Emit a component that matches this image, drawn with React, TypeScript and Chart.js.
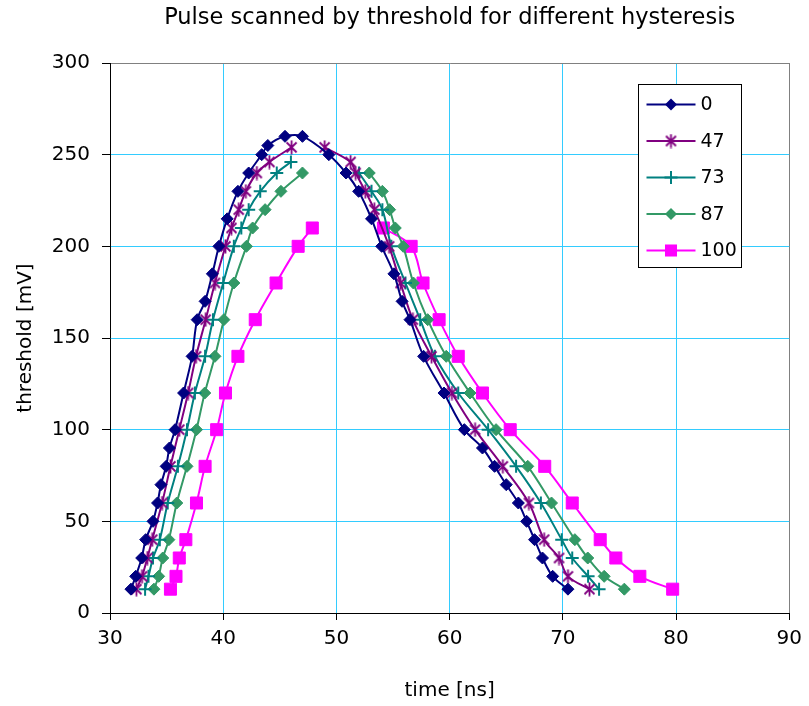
import React, { useEffect, useRef } from 'react';
import { Chart, registerables } from 'chart.js';

Chart.register(...registerables);

const FONT = "'DejaVu Sans', 'Liberation Sans', sans-serif";

const chartTitle = 'Pulse scanned by threshold for different hysteresis';
const xTitle = 'time [ns]';
const yTitle = 'threshold [mV]';
const seriesNames = ['0', '47', '73', '87', '100'];
const seriesColors = ['#000080', '#800080', '#008080', '#339966', '#ff00ff'];

// hysteresis 0
const time0 = [31.85, 32.27, 32.8, 33.15, 33.8, 34.2, 34.5, 34.96, 35.25, 35.75, 36.5, 37.25, 37.7, 38.4, 39.04, 39.62, 40.35, 41.3, 42.25, 43.4, 43.94, 45.46, 47.0, 49.33, 50.85, 51.96, 53.1, 54.0, 55.08, 55.8, 56.5, 57.7, 59.5, 61.3, 62.9, 63.97, 65.0, 66.07, 66.8, 67.5, 68.2, 69.1, 70.45];
const thr0 = [13, 20, 30, 40, 50, 60, 70, 80, 90, 100, 120, 140, 160, 170, 185, 200, 215, 230, 240, 250, 255, 260, 260, 250, 240, 230, 215, 200, 185, 170, 160, 140, 120, 100, 90, 80, 70, 60, 50, 40, 30, 20, 13];

// hysteresis 47 (null = gap between rising and falling edge)
const time47 = [32.33, 32.83, 33.3, 33.73, 34.6, 35.34, 36.12, 36.9, 37.6, 38.45, 39.27, 40.2, 40.73, 41.37, 42.0, 42.97, 44.08, 46.04, 47.5, 48.96, 51.25, 51.7, 52.55, 53.35, 54.65, 55.66, 56.75, 58.4, 60.2, 62.25, 64.7, 67.0, 68.35, 69.66, 70.45, 72.35];
const thr47 = [13, 20, 30, 40, 60, 80, 100, 120, 140, 160, 180, 200, 210, 220, 230, 240, 246, 254, null, 254, 246, 240, 230, 220, 200, 180, 160, 140, 120, 100, 80, 60, 40, 30, 20, 13];

// hysteresis 73
const time73 = [33.1, 33.4, 33.8, 34.4, 35.1, 36.0, 36.8, 37.5, 38.4, 39.1, 40.0, 40.94, 41.6, 42.25, 43.27, 44.73, 45.98, 49.0, 52.0, 53.1, 54.06, 54.85, 56.1, 57.4, 58.7, 60.76, 63.4, 65.87, 68.06, 69.9, 70.83, 72.23, 73.2];
const thr73 = [13, 20, 30, 40, 60, 80, 100, 120, 140, 160, 180, 200, 210, 220, 230, 240, 246, null, 240, 230, 220, 200, 180, 160, 140, 120, 100, 80, 60, 40, 30, 20, 13];

// hysteresis 87
const time87 = [33.88, 34.3, 34.66, 35.2, 35.9, 36.8, 37.64, 38.37, 39.27, 40.06, 40.94, 42.05, 42.6, 43.7, 45.1, 47.0, 50.0, 52.9, 54.06, 54.7, 55.2, 55.9, 56.8, 58.06, 59.7, 61.8, 64.1, 66.9, 69.0, 71.06, 72.2, 73.65, 75.43];
const thr87 = [13, 20, 30, 40, 60, 80, 100, 120, 140, 160, 180, 200, 210, 220, 230, 240, null, 240, 230, 220, 210, 200, 180, 160, 140, 120, 100, 80, 60, 40, 30, 20, 13];

// hysteresis 100
const time100 = [35.34, 35.83, 36.12, 36.7, 37.64, 38.4, 39.42, 40.2, 41.3, 42.83, 44.67, 46.62, 47.87, 51.0, 54.15, 56.6, 57.65, 59.07, 60.76, 62.9, 65.35, 68.4, 70.83, 73.3, 74.68, 76.8, 79.7];
const thr100 = [13, 20, 30, 40, 60, 80, 100, 120, 140, 160, 180, 200, 210, null, 210, 200, 180, 160, 140, 120, 100, 80, 60, 40, 30, 20, 13];

const seriesTimes = [time0, time47, time73, time87, time100];
const seriesThr = [thr0, thr47, thr73, thr87, thr100];

const xMin = 30, xMax = 90, xStep = 10;
const yMin = 0, yMax = 300, yStep = 50;

function makeStar(color: string): HTMLCanvasElement {
  const c = document.createElement('canvas');
  c.width = 15; c.height = 15;
  const g = c.getContext('2d')!;
  g.strokeStyle = color;
  g.lineWidth = 1.8;
  g.lineCap = 'butt';
  g.beginPath();
  g.moveTo(2.5, 2.5); g.lineTo(12.5, 12.5);
  g.moveTo(12.5, 2.5); g.lineTo(2.5, 12.5);
  g.moveTo(7.5, 0.5); g.lineTo(7.5, 14.5);
  g.stroke();
  return c;
}

function drawMarker(ctx: CanvasRenderingContext2D, style: any, r: number, color: string, x: number, y: number) {
  ctx.save();
  ctx.fillStyle = color;
  ctx.strokeStyle = color;
  if (style instanceof HTMLCanvasElement) {
    ctx.drawImage(style, x - style.width / 2, y - style.height / 2);
  } else if (style === 'rectRot') {
    ctx.beginPath();
    ctx.moveTo(x - r, y); ctx.lineTo(x, y - r); ctx.lineTo(x + r, y); ctx.lineTo(x, y + r);
    ctx.closePath(); ctx.fill();
  } else if (style === 'cross') {
    ctx.lineWidth = 2;
    ctx.beginPath();
    ctx.moveTo(x - r, y); ctx.lineTo(x + r, y);
    ctx.moveTo(x, y - r); ctx.lineTo(x, y + r);
    ctx.stroke();
  } else if (style === 'rect') {
    const s = Math.SQRT1_2 * r;
    ctx.fillRect(x - s, y - s, 2 * s, 2 * s);
  }
  ctx.restore();
}

const boxLegend = {
  id: 'boxLegend',
  afterDraw(chart: any) {
    const ctx: CanvasRenderingContext2D = chart.ctx;
    const bx = 638.5, by = 84.5, bw = 103, bh = 183;
    ctx.save();
    ctx.fillStyle = '#ffffff';
    ctx.fillRect(bx, by, bw, bh);
    ctx.strokeStyle = '#000000';
    ctx.lineWidth = 1;
    ctx.strokeRect(bx, by, bw, bh);
    ctx.font = `19px ${FONT}`;
    ctx.textBaseline = 'middle';
    ctx.textAlign = 'left';
    chart.data.datasets.forEach((ds: any, i: number) => {
      const y = by + 20 + i * 36.5;
      ctx.strokeStyle = ds.borderColor;
      ctx.lineWidth = 2;
      ctx.beginPath();
      ctx.moveTo(bx + 8, y);
      ctx.lineTo(bx + 57, y);
      ctx.stroke();
      drawMarker(ctx, ds.pointStyle, ds.pointRadius, ds.borderColor, bx + 32.5, y);
      ctx.fillStyle = '#000000';
      ctx.fillText(ds.label, bx + 62, y + 1);
    });
    ctx.restore();
  },
};

export default function App() {
  const ref = useRef<HTMLCanvasElement>(null);

  useEffect(() => {
    document.body.style.margin = '0';
    document.body.style.overflow = 'hidden';
    const star = makeStar(seriesColors[1]);
    const styles: any[] = ['rectRot', star, 'cross', 'rectRot', 'rect'];
    const radii = [6, 7, 6.5, 6, 8.5];

    const datasets = seriesNames.map((name, i) => ({
      label: name,
      data: seriesTimes[i].map((t, k) => ({ x: t, y: seriesThr[i][k] })),
      borderColor: seriesColors[i],
      backgroundColor: seriesColors[i],
      pointBackgroundColor: seriesColors[i],
      pointBorderColor: seriesColors[i],
      pointBorderWidth: i === 2 ? 2 : 1,
      pointStyle: styles[i],
      pointRadius: radii[i],
      borderWidth: 2,
      tension: 0.35,
      spanGaps: false,
      showLine: true,
      fill: false,
    }));

    const gridColorX = (c: any) => (c.tick && c.tick.value === xMax ? '#808080' : '#33ccff');
    const gridColorY = (c: any) => (c.tick && c.tick.value === yMax ? '#808080' : '#33ccff');

    const chart = new Chart(ref.current!, {
      type: 'scatter',
      data: { datasets },
      plugins: [boxLegend],
      options: {
        animation: false,
        responsive: false,
        devicePixelRatio: 1,
        layout: { padding: { left: 0, right: 13, top: 0, bottom: 0 } },
        plugins: {
          legend: { display: false },
          tooltip: { enabled: false },
          title: {
            display: true,
            fullSize: false,
            align: 'center',
            text: chartTitle,
            color: '#000',
            font: { family: FONT, size: 22.5, weight: 'normal', lineHeight: 1.2 },
            padding: { top: 5, bottom: 31 },
          },
        },
        scales: {
          x: {
            type: 'linear',
            min: xMin,
            max: xMax,
            afterFit: (s: any) => { s.height = 93; },
            ticks: { stepSize: xStep, color: '#000', font: { family: FONT, size: 20 }, padding: 7, maxRotation: 0 },
            grid: { color: gridColorX, lineWidth: 1, tickColor: '#000', tickLength: 7, drawTicks: true },
            border: { display: true, color: '#000', width: 1 },
            title: { display: true, text: xTitle, color: '#000', font: { family: FONT, size: 20 }, padding: { top: 0, bottom: 3 } },
          },
          y: {
            type: 'linear',
            min: yMin,
            max: yMax,
            afterFit: (s: any) => { s.width = 110; },
            ticks: { stepSize: yStep, color: '#000', font: { family: FONT, size: 20 }, padding: 12 },
            grid: { color: gridColorY, lineWidth: 1, tickColor: '#000', tickLength: 8, drawTicks: true },
            border: { display: true, color: '#000', width: 1 },
            title: { display: true, text: yTitle, color: '#000', font: { family: FONT, size: 20 }, padding: { top: 14, bottom: 0 } },
          },
        },
      } as any,
    });
    return () => chart.destroy();
  }, []);

  return (
    <div style={{ width: 809, height: 706, background: '#fff' }}>
      <canvas ref={ref} width={809} height={706} />
    </div>
  );
}
